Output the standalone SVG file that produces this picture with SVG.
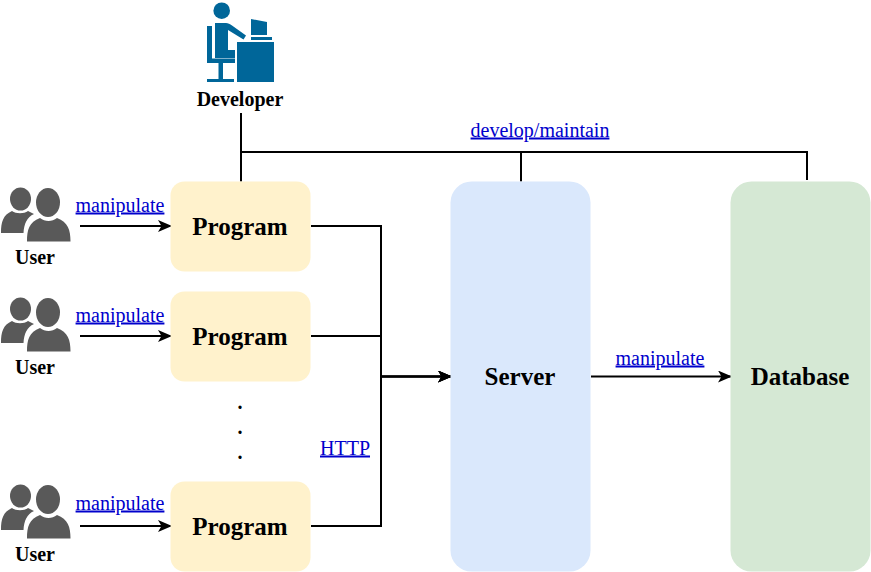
<svg xmlns="http://www.w3.org/2000/svg" width="871" height="572" viewBox="0 0 871 572">
<style>
text{font-family:"Liberation Serif","Times New Roman",serif;text-anchor:middle}
.t{font-weight:bold;font-size:25px;fill:#000}
.u{font-weight:bold;font-size:20px;fill:#000}
.o{font-weight:bold;font-size:20px;fill:#000}
.l{font-size:20px;fill:#0000cc;text-decoration:underline}
.c{fill:none;stroke:#000;stroke-width:2}
.p{fill:#595959}
.d{fill:#006699}
</style>
<defs>
<marker id="a" markerUnits="userSpaceOnUse" markerWidth="16" markerHeight="14" refX="14" refY="6" orient="auto"><path d="M0 0L14 6L0 12L3.500 6Z" fill="#000"/></marker>
<g id="person"><ellipse class="p" cx="20.500" cy="199" rx="10.500" ry="11.500"/><path class="p" d="M1 233C1 222 3 215 12 211C16 214 24 214 28 211L34 214C27 217 24 224 23.500 233Z"/><ellipse class="p" cx="48" cy="202.500" rx="12" ry="14.500"/><path class="p" d="M27 241.500C27 230 29 222 40 218C45 222 52 222 57 218C68 222 70.500 230 70.500 241.500Z"/></g>
</defs>
<g id="connectors">
<path class="c" d="M241 113V181.500M241 152H521V181.500M241 152H807V180"/>
<path class="c" marker-end="url(#a)" d="M80 226H172"/>
<path class="c" marker-end="url(#a)" d="M80 336H172"/>
<path class="c" marker-end="url(#a)" d="M80 526H172"/>
<path class="c" marker-end="url(#a)" d="M311 226H381V376.500H452"/>
<path class="c" marker-end="url(#a)" d="M311 336H381V376.500H452"/>
<path class="c" marker-end="url(#a)" d="M311 526H381V376.500H452"/>
<path class="c" marker-end="url(#a)" d="M591 376.500H732"/>
</g>
<g id="developer">
<circle class="d" cx="221.700" cy="10.700" r="8.300"/>
<path class="d" d="M215 23H226C228 23 230 24 232 25.500L246 35.500L243.500 39.500L228 30V50H235V58H215Z"/>
<path class="d" d="M207 26H212V58.500H235V63H207Z"/>
<path class="d" d="M218.500 63H223V79H234V82H207V79H218.500Z"/>
<path class="d" d="M251 19L267 22V35H251Z"/>
<rect class="d" x="251" y="37" width="21" height="3"/>
<rect class="d" x="237" y="42" width="37" height="40"/>
<text class="u" x="240" y="106">Developer</text>
</g>
<g id="program1"><rect x="170.500" y="181.500" width="140" height="90" rx="14" fill="#fff2cc"/><text class="t" x="240" y="235">Program</text></g>
<g id="program2"><rect x="170.500" y="291.500" width="140" height="90" rx="14" fill="#fff2cc"/><text class="t" x="240" y="345">Program</text></g>
<g id="program3"><rect x="170.500" y="481.500" width="140" height="90" rx="14" fill="#fff2cc"/><text class="t" x="240" y="535">Program</text></g>
<g id="server"><rect x="450.500" y="181.500" width="140" height="390" rx="21" fill="#dae8fc"/><text class="t" x="520" y="385">Server</text></g>
<g id="database"><rect x="730.500" y="181.500" width="140" height="390" rx="21" fill="#d5e8d4"/><text class="t" x="800" y="385">Database</text></g>
<g id="user1"><use href="#person"/><text class="u" x="35" y="264">User</text></g>
<g id="user2"><use href="#person" y="110"/><text class="u" x="35" y="374">User</text></g>
<g id="user3"><use href="#person" y="297"/><text class="u" x="35" y="561">User</text></g>
<g id="labels">
<text class="l" x="120" y="211.500">manipulate</text>
<text class="l" x="120" y="321.500">manipulate</text>
<text class="l" x="120" y="509.500">manipulate</text>
<text class="l" x="660" y="364.500">manipulate</text>
<text class="l" x="540" y="136.500">develop/maintain</text>
<text class="l" x="345" y="454.500">HTTP</text>
<text class="o" x="240" y="409">.</text>
<text class="o" x="240" y="434">.</text>
<text class="o" x="240" y="459">.</text>
</g>
</svg>
